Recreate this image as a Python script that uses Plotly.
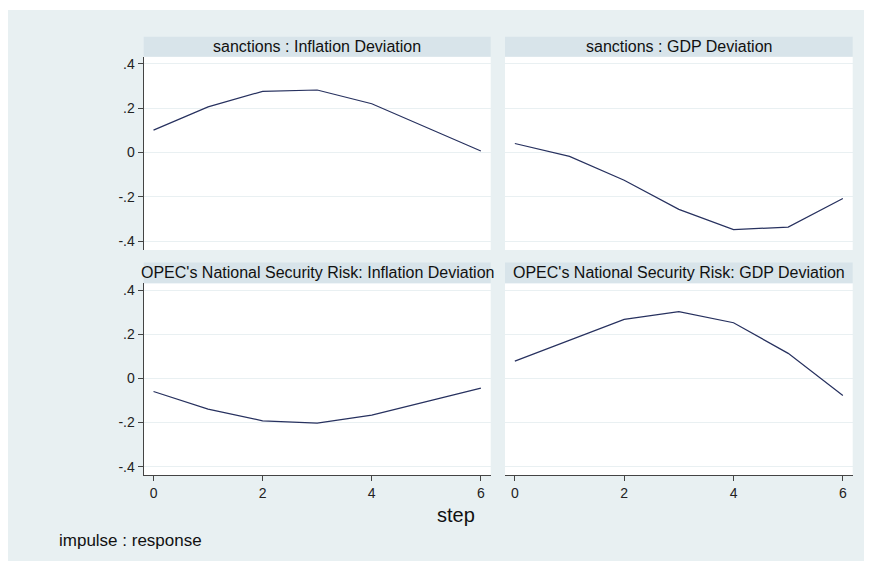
import plotly.graph_objects as go

# ---- data ----
steps = [0, 1, 2, 3, 4, 5, 6]
sanc_infl = [0.101, 0.206, 0.276, 0.282, 0.220, 0.113, 0.007]
sanc_gdp = [0.041, -0.017, -0.125, -0.256, -0.347, -0.336, -0.207]
opec_infl = [-0.059, -0.139, -0.192, -0.203, -0.166, -0.104, -0.044]
opec_gdp = [0.079, 0.174, 0.268, 0.303, 0.253, 0.114, -0.077]
panel_titles = [
    "sanctions : Inflation Deviation",
    "sanctions : GDP Deviation",
    "OPEC's National Security Risk: Inflation Deviation",
    "OPEC's National Security Risk: GDP Deviation",
]
y_tickvals = [-0.4, -0.2, 0, 0.2, 0.4]
y_ticktext = ["-.4", "-.2", "0", ".2", ".4"]
x_tickvals = [0, 2, 4, 6]
x_ticktext = ["0", "2", "4", "6"]
x_title = "step"
note_text = "impulse : response"

# page has an 8px body margin; work in window pixels and convert
OFF = 8
W, H = 872, 561 - OFF
def PX(x): return (x - OFF) / W
def PY(y): return 1 - (y - OFF) / H

FONT = "Liberation Sans, Arial, sans-serif"
LINE = "#27315f"
AXC = "#444444"
GRID = "#e9f0f2"
BG = "#e8f0f2"
STRIP = "#d8e4ea"

cols = [(143.7, 490.7), (505.0, 852.7)]
rows = [(56.7, 250.0), (283.3, 475.2)]
strips = [(36.7, 56.7), (262.5, 283.3)]
series = [sanc_infl, sanc_gdp, opec_infl, opec_gdp]

fig = go.Figure()
shapes = [dict(type="rect", xref="paper", yref="paper", x0=max(PX(7), 0), x1=1, y0=0, y1=PY(10),
               fillcolor=BG, line=dict(width=0), layer="below")]
annotations = []
layout = {}
for i in range(4):
    r, c = divmod(i, 2)
    k = "" if i == 0 else str(i + 1)
    xa, ya = "xaxis" + k, "yaxis" + k
    fig.add_trace(go.Scatter(x=steps, y=series[i], mode="lines",
                             line=dict(color=LINE, width=1.2),
                             xaxis="x" + k, yaxis="y" + k, showlegend=False))
    x0, x1 = cols[c]
    y0, y1 = rows[r]
    s0, s1 = strips[r]
    layout[xa] = dict(domain=[PX(x0), PX(x1)], range=[-0.18, 6.18], anchor="y" + k,
                      tickvals=x_tickvals, ticktext=x_ticktext, showgrid=False, zeroline=False,
                      showticklabels=(r == 1), showline=(r == 1), linecolor=AXC, linewidth=1.3,
                      ticks="outside" if r == 1 else "", ticklen=5, tickcolor=AXC, tickwidth=1,
                      tickfont=dict(family=FONT, size=14, color="#222"))
    layout[ya] = dict(domain=[PY(y1), PY(y0)], range=[-0.439, 0.432], anchor="x" + k,
                      tickvals=y_tickvals, ticktext=y_ticktext, showgrid=True, gridcolor=GRID,
                      gridwidth=1, zeroline=False,
                      showticklabels=(c == 0), showline=(c == 0), linecolor=AXC, linewidth=1.3,
                      ticks="outside" if c == 0 else "", ticklen=5, tickcolor=AXC, tickwidth=1,
                      tickfont=dict(family=FONT, size=14, color="#222"))
    shapes.append(dict(type="rect", xref="paper", yref="paper", x0=PX(x0), x1=PX(x1),
                       y0=PY(y1), y1=PY(y0), fillcolor="white", line=dict(width=0), layer="below"))
    shapes.append(dict(type="rect", xref="paper", yref="paper", x0=PX(x0), x1=PX(x1),
                       y0=PY(s1), y1=PY(s0), fillcolor=STRIP, line=dict(width=0), layer="below"))
    annotations.append(dict(text=panel_titles[i], xref="paper", yref="paper",
                            x=PX((x0 + x1) / 2), y=PY((s0 + s1) / 2), xanchor="center",
                            yanchor="middle", showarrow=False,
                            font=dict(family=FONT, size=16, color="#111")))

annotations.append(dict(text=x_title, xref="paper", yref="paper", x=PX(456), y=PY(515),
                        xanchor="center", yanchor="middle", showarrow=False,
                        font=dict(family=FONT, size=20, color="#111")))
annotations.append(dict(text=note_text, xref="paper", yref="paper", x=PX(57), y=PY(540),
                        xanchor="left", yanchor="middle", showarrow=False,
                        font=dict(family=FONT, size=17, color="#111")))

fig.update_layout(width=W, height=H, margin=dict(l=0, r=0, t=0, b=0),
                  paper_bgcolor="white", plot_bgcolor="rgba(0,0,0,0)",
                  shapes=shapes, annotations=annotations, **layout)
fig.write_html("out.html")
